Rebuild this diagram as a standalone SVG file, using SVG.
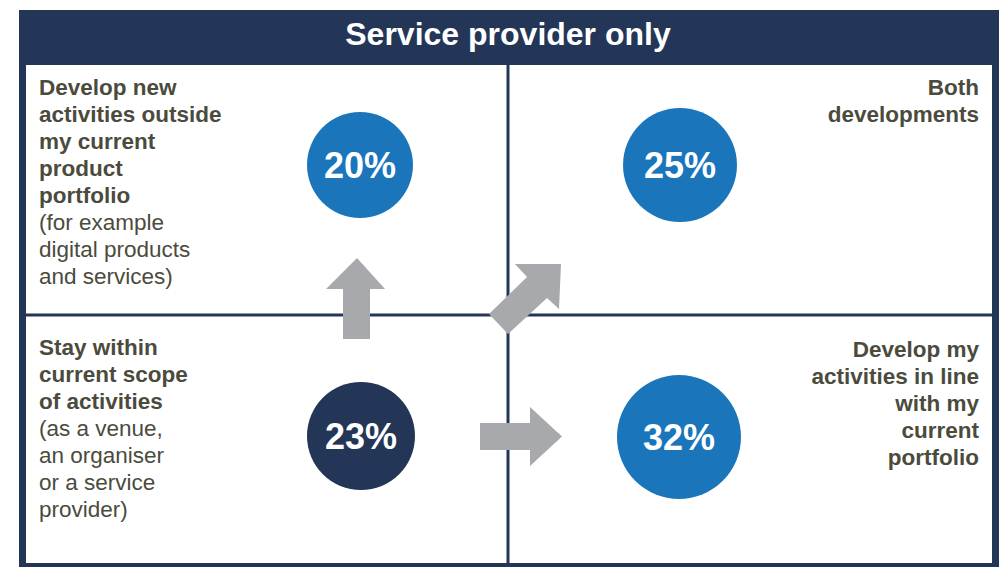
<svg xmlns="http://www.w3.org/2000/svg" width="1004" height="567" viewBox="0 0 1004 567">
<style>
.t{font-family:"Liberation Sans",Arial,sans-serif;font-size:22.5px;fill:#4b4b3d}
.b{font-weight:bold}
.r{text-anchor:end}
.pct{font-family:"Liberation Sans",Arial,sans-serif;font-size:36px;font-weight:bold;fill:#fff;text-anchor:middle}
.arr{fill:#a7a9ac}
.ln{stroke:#233657;stroke-width:3}
</style>
<rect width="1004" height="567" fill="#fff"/>
<g id="frame">
<rect x="19" y="10" width="980" height="560" fill="#233657"/>
<rect x="26" y="65" width="966" height="498" fill="#fff"/>
<line class="ln" x1="508" y1="65" x2="508" y2="563"/>
<line class="ln" x1="26" y1="315" x2="992" y2="315"/>
<text x="508" y="45" text-anchor="middle" font-family="Liberation Sans,Arial,sans-serif" font-size="32" font-weight="bold" fill="#fff">Service provider only</text>
</g>
<g id="q-top-left">
<text class="t b" x="39" y="95">Develop new</text>
<text class="t b" x="39" y="122">activities outside</text>
<text class="t b" x="39" y="149">my current</text>
<text class="t b" x="39" y="176">product</text>
<text class="t b" x="39" y="203">portfolio</text>
<text class="t" x="39" y="230">(for example</text>
<text class="t" x="39" y="257">digital products</text>
<text class="t" x="39" y="284">and services)</text>
<circle cx="360" cy="165" r="53" fill="#1b75bb"/>
<text class="pct" x="360" y="178">20%</text>
</g>
<g id="q-top-right">
<text class="t b r" x="979" y="95">Both</text>
<text class="t b r" x="979" y="122">developments</text>
<circle cx="680" cy="165" r="57" fill="#1b75bb"/>
<text class="pct" x="680" y="178">25%</text>
</g>
<g id="q-bottom-left">
<text class="t b" x="39" y="355">Stay within</text>
<text class="t b" x="39" y="382">current scope</text>
<text class="t b" x="39" y="409">of activities</text>
<text class="t" x="39" y="436">(as a venue,</text>
<text class="t" x="39" y="463">an organiser</text>
<text class="t" x="39" y="490">or a service</text>
<text class="t" x="39" y="517">provider)</text>
<circle cx="361" cy="436" r="54" fill="#233657"/>
<text class="pct" x="361" y="449">23%</text>
</g>
<g id="q-bottom-right">
<text class="t b r" x="979" y="357">Develop my</text>
<text class="t b r" x="979" y="384">activities in line</text>
<text class="t b r" x="979" y="411">with my</text>
<text class="t b r" x="979" y="438">current</text>
<text class="t b r" x="979" y="465">portfolio</text>
<circle cx="679" cy="437" r="62" fill="#1b75bb"/>
<text class="pct" x="679" y="450">32%</text>
</g>
<g id="connectors">
<polygon class="arr" points="343,339 343,289 326,289 357,258 385,289 370,289 370,339"/>
<polygon class="arr" points="489,314 527,277 515,264 561,264 559,309 547,298 508,334"/>
<polygon class="arr" points="480,423 530,423 530,407 562,436.5 530,466 530,450 480,450"/>
</g>
</svg>
